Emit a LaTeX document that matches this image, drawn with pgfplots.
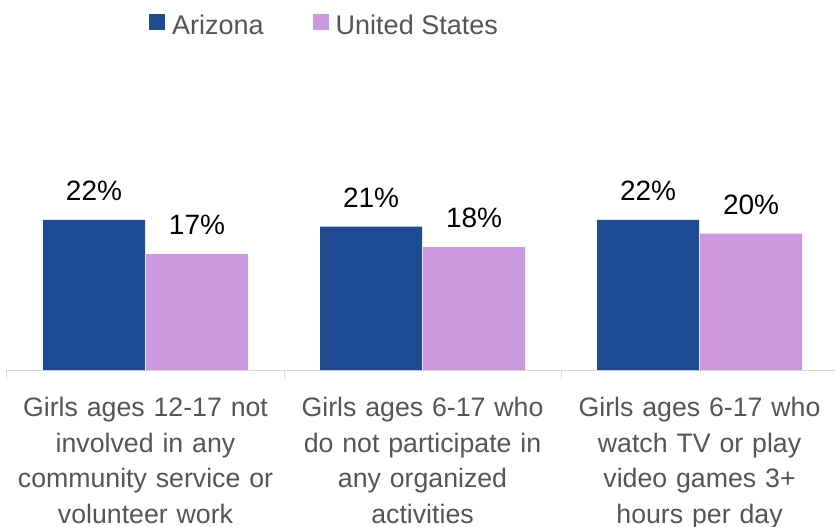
\documentclass[border=0pt]{standalone}
\usepackage{pgfplots}
\pgfplotsset{compat=1.18}
\usepackage{fontspec}
\setmainfont{Liberation Sans}
\definecolor{azblue}{HTML}{1F4A94}
\definecolor{uspurple}{HTML}{CC99E0}
\definecolor{labgray}{HTML}{555555}
\definecolor{axgray}{HTML}{D9D9D9}

\begin{document}
\begin{tikzpicture}
\begin{axis}[
    name=main,
    scale only axis,
    width=828pt, height=307pt,
    xmin=-0.5, xmax=2.489,
    ymin=0, ymax=45,
    ybar=1pt, bar width=102pt,
    axis x line*=bottom, axis y line=none,
    x axis line style={draw=axgray, line width=1pt, -},
    tick align=outside,
    /pgf/number format/assume math mode=true,
    xtick={0,1,2},
    xticklabels={{Girls ages 12-17 not\\involved in any\\community service or\\volunteer work},
                 {Girls ages 6-17 who\\do not participate in\\any organized\\activities},
                 {Girls ages 6-17 who\\watch TV or play\\video games 3+\\hours per day}},
    major x tick style={draw=none},
    extra x ticks={-0.5,0.5,1.5},
    extra x tick labels={},
    extra x tick style={major x tick style={draw=axgray, line width=1pt}, major tick length=9pt},
    xticklabel style={font=\fontsize{26.7}{35.5}\selectfont, text=labgray, align=center,
                      text width=290pt, inner sep=0pt, anchor=north, yshift=-23pt},
    nodes near coords={\pgfmathprintnumber{\pgfplotspointmeta}\%},
    every node near coord/.append style={font=\fontsize{28}{30}\selectfont, text=black,
                                         inner sep=0pt, yshift=19pt},
    legend style={at={(0.1715,1.1235)}, anchor=west, draw=none, fill=none, inner sep=0pt,
                  font=\fontsize{27}{30}\selectfont, text=labgray,
                  nodes={inner sep=0pt},
                  /tikz/every odd column/.append style={column sep=7pt},
                  /tikz/every even column/.append style={column sep=49pt}},
    legend columns=2,
    legend image code/.code={\fill[#1] (0pt,-5pt) rectangle (16pt,11pt);},
]
\addplot[fill=azblue, draw=none] coordinates {(0,22) (1,21) (2,22)};
\addplot[fill=uspurple, draw=none] coordinates {(0,17) (1,18) (2,20)};
\legend{Arizona, United States}
\end{axis}
\pgfresetboundingbox
\useasboundingbox ([shift={(-7pt,-157pt)}]main.south west) rectangle ([shift={(828pt,370pt)}]main.south west);
\end{tikzpicture}
\end{document}
